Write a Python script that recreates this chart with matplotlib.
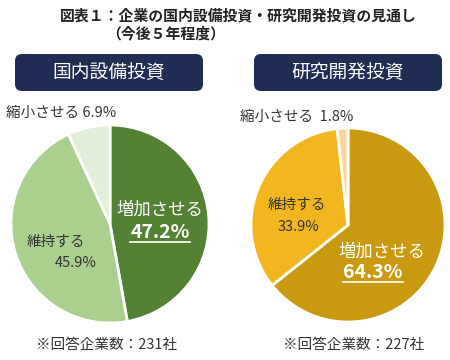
import matplotlib
matplotlib.use('Agg')
import matplotlib.pyplot as plt
from matplotlib.patches import FancyBboxPatch
from matplotlib.lines import Line2D

plt.rcParams['font.family'] = ['Noto Sans CJK JP', 'DejaVu Sans']

# data
categories = ['増加させる', '維持する', '縮小させる']
equip_vals = [47.2, 45.9, 6.9]
rnd_vals = [64.3, 33.9, 1.8]
equip_colors = ['#548235', '#A9D08E', '#E2EFDA']
rnd_colors = ['#C99A10', '#F2B71F', '#F9D7A3']
panel_titles = ['国内設備投資', '研究開発投資']
notes = ['※回答企業数：231社', '※回答企業数：227社']
title1 = '図表１：企業の国内設備投資・研究開発投資の見通し'
title2 = '（今後５年程度）'

W, H = 450, 360
fig = plt.figure(figsize=(4.5, 3.6), dpi=100)

def pie_axes(cx, cy, r):
    ax = fig.add_axes([(cx - r) / W, (H - cy - r) / H, 2 * r / W, 2 * r / H])
    return ax

def finish(ax):
    ax.set_xlim(-1, 1)
    ax.set_ylim(-1, 1)
    ax.set_aspect('equal')
    ax.axis('off')

ax1 = pie_axes(110, 224, 99)
ax1.pie(equip_vals, colors=equip_colors, startangle=90, counterclock=False,
        radius=1, wedgeprops=dict(edgecolor='white', linewidth=2))
finish(ax1)
ax2 = pie_axes(348, 225, 97)
ax2.pie(rnd_vals, colors=rnd_colors, startangle=90, counterclock=False,
        radius=1, wedgeprops=dict(edgecolor='white', linewidth=2))
finish(ax2)

# overlay in pixel coords
ov = fig.add_axes([0, 0, 1, 1])
ov.set_xlim(0, W)
ov.set_ylim(H, 0)
ov.axis('off')
ov.patch.set_alpha(0)

ov.text(60, 15, title1, fontsize=10.7, fontweight='bold', color='#222222', va='center', ha='left')
ov.text(106, 33, title2, fontsize=10.7, fontweight='bold', color='#222222', va='center', ha='left')

for x0, t in zip([15, 254], panel_titles):
    ov.add_patch(FancyBboxPatch((x0, 54), 188, 37, boxstyle='round,pad=0,rounding_size=7',
                                facecolor='#1F2D55', edgecolor='none'))
    ov.text(x0 + 94, 72.5, t, fontsize=13.5, color='white', ha='center', va='center')

dark = '#333333'
# left pie labels
ov.text(6, 113, f'{categories[2]} {equip_vals[2]}%', fontsize=10.5, color=dark, va='center', ha='left')
ov.text(160, 210, categories[0], fontsize=12.5, color='white', ha='center', va='center')
u1 = ov.text(160, 233, f'{equip_vals[0]}%', fontsize=14, fontweight='bold', color='white', ha='center', va='center')
ov.text(56, 242, categories[1], fontsize=10.5, color=dark, ha='center', va='center')
ov.text(76, 263, f'{equip_vals[1]}%', fontsize=10.5, color=dark, ha='center', va='center')

# right pie labels
ov.text(240, 117, f'{categories[2]}  {rnd_vals[2]}%', fontsize=10.5, color=dark, va='center', ha='left')
ov.text(297, 205, categories[1], fontsize=10.5, color=dark, ha='center', va='center')
ov.text(298, 227, f'{rnd_vals[1]}%', fontsize=10.5, color=dark, ha='center', va='center')
ov.text(382, 252, categories[0], fontsize=12.5, color='white', ha='center', va='center')
u2 = ov.text(373, 273, f'{rnd_vals[0]}%', fontsize=14, fontweight='bold', color='white', ha='center', va='center')

# footnotes
ov.text(107, 345, notes[0], fontsize=10.5, color=dark, ha='center', va='center')
ov.text(354, 345, notes[1], fontsize=10.5, color=dark, ha='center', va='center')

# underline the bold percentages
renderer = fig.canvas.get_renderer()
for t in [u1, u2]:
    bb = t.get_window_extent(renderer)
    fig.add_artist(Line2D([bb.x0, bb.x1], [bb.y0 + 1, bb.y0 + 1], transform=None,
                          color='white', linewidth=1.2))

fig.savefig('out.png', dpi=100)
